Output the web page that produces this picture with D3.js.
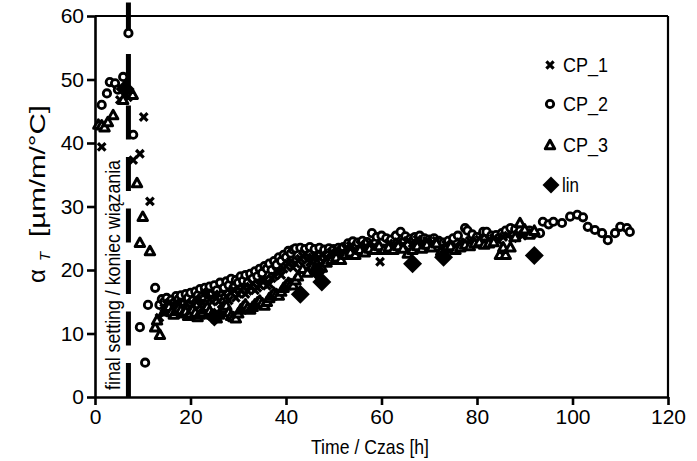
<!DOCTYPE html>
<html><head><meta charset="utf-8">
<script src="https://d3js.org/d3.v7.min.js"></script>
<style>body{margin:0;background:#fff}svg{display:block}text{font-family:"Liberation Sans Narrow","Liberation Sans",Arial,sans-serif;fill:#000}</style>
</head><body>
<svg id="c" width="697" height="461"></svg>
<script>
const xTicks=[0,20,40,60,80,100,120];
const yTicks=[0,10,20,30,40,50,60];
const seriesNames=["CP_1","CP_2","CP_3","lin"];
const finalSettingTime=7;
const cp1=[[1.4,39.4],[5.2,46.8],[6.9,47.2],[8,37.3],[9.4,38.3],[10.2,44.1],[11.5,30.8],[13.5,12.5],
[14.5,14],[15,14.6],[15.5,14.8],[16,14.2],[16.5,13.8],[17,14.9],[17.5,14.6],[18,13.9],[18.5,14.2],[19,14.8],[19.5,13.6],[20,14.1],[20.5,14.5],[21,15.5],[21.5,15.2],[22,14.4],[22.5,14.8],[23,16.4],[23.5,16.3],[24,15.4],[24.5,15],[25,16.2],[25.5,15.6],[26,15.1],[26.5,14.6],[27,16.3],[27.5,15.8],[28,15.2],[28.5,16.4],[29,16.9],[29.5,15.6],[30,16.2],[30.5,16.8],[31,17.3],[31.5,16.2],[32,16.7],[32.5,17.4],[33,17.9],[33.5,16.8],[34,17.2],[34.5,17.6],[35,18.6],[35.5,18.4],[36,17.5],[36.5,17.8],[37,18.7],[37.5,19],[38,19.8],[38.5,19.6],[39,19.2],[39.5,20.2],[40,20.6],[40.5,21],[41,21.4],[41.5,20.4],[42,21],[42.5,21.5],[43,21.8],[43.5,22.2],[44,22.6],[44.5,21.6],[45,21.2],[45.5,22],[46,22.3],[46.5,21.4],[47,21.9],[47.5,22.4],[48.5,22],[49.5,22.8],[50.5,23.2],[51.5,22.6],[52.5,23.4],[53.5,23.8],[54.5,23.2],[55.5,24],[56.5,23.6],[57.5,24.2],[58.5,23.8],[59.7,21.3],[60.5,23.6],[61.5,24.2],[62.5,23.8],[63.5,24.4],[64.5,24],[65.5,24.6],[66.5,24.2],[67.5,24.8],[68.5,24.4],[69.5,24.6],[70.5,24.2],[71.5,24.6],[72.5,23.6],[73.5,24],[74.5,23.4],[75.5,23.8],[76.5,24.4],[77.5,24],[78.5,24.6],[79.5,24.2],[80.5,24.8],[81.5,24.4],[82.5,24.8],[83.5,25],[84.5,24.6],[85.5,25.2],[86.5,25.4],[87.5,25],[88.5,25.6],[89.5,25.4],[90.5,25.8]];
const cp2=[[1.4,46],[2.5,47.8],[3.1,49.6],[4.2,49.4],[4.8,48.4],[5.9,50.4],[7,57.3],[8,41.3],[9.4,11],[10.5,5.4],[11.1,14.5],[12.6,17.2],
[13.5,14.5],[14,15.4],[14.5,15],[15,15.6],[15.5,14.8],[16,15.3],[16.5,14.2],[17,15.9],[17.5,15.4],[18,16],[18.5,14.8],[19,16.2],[19.5,15.6],[20,16.4],[20.5,15.2],[21,16.6],[21.5,16],[22,17],[22.5,15.8],[23,17.2],[23.5,16.5],[24,17.4],[24.5,16.2],[25,17.6],[25.5,16.8],[26.2,18],[27,17.2],[27.5,18.2],[28,17.6],[28.5,18.6],[29,17.2],[29.5,18.4],[30,18],[30.5,19],[31,18.3],[31.5,19.2],[32,18],[32.5,19.4],[33,18.6],[33.5,19.8],[34,19],[34.5,20.2],[35,19.5],[35.5,20.6],[36,20.2],[36.5,21],[37,20],[37.5,21.4],[38,20.8],[38.5,22],[39,21.4],[39.5,22.4],[40,22],[40.5,23],[41,22.6],[41.5,23.2],[42,23.4],[43,23.5],[44,23.3],[45,23.6],[46,23.3],[47,23.5],[48,23.2],[49,23.4],[50,23.3],[51,23.5],[52,23.6],[53,24.2],[54,24.5],[55,24.3],[56,24.6],[57,24.4],[58,25.8],[59,25.2],[60,25.4],[61,25],[62,24.8],[63,25.4],[64,26],[65,25.3],[66,24.9],[67,25.2],[67.4,24.2],[68,25.4],[69,25],[70,24.8],[71,25],[72,24.6],[73,24.3],[74,24.6],[75,25],[76,25.4],[77.5,26.6],[78,26.2],[79,25.6],[80,25.2],[81.3,26],[82,26],[83,25.4],[84,25.5],[85.2,25.8],[86,26.2],[87,26.6],[88,26.4],[89,26.2],[90,26],[91,26.2],[92,25.8],[93.2,25.8],[93.8,27.6],[95,27.2],[96,27.6],[97.8,27.4],[99.5,28.4],[101,28.7],[102.2,28.3],[103.2,26.8],[104.7,26.3],[106.2,25.8],[107.4,24.7],[108.9,25.8],[110,26.8],[111.4,26.6],[112,26]];
const cp3=[[0.7,42.9],[1.4,42.8],[2,42.5],[2.7,43.3],[3.8,44.4],[5.9,46.8],[7.9,47.6],[8.8,33.7],[9.4,24.3],[10,28.4],[11.5,23],[12.6,11],[13.6,9.8],[13,12.1],
[14.5,13.5],[15,13.9],[15.5,14.2],[16,13.4],[16.5,13],[17,13.6],[17.5,14],[18,13.7],[18.5,13.2],[19,13.5],[19.5,12.8],[20,13.1],[20.5,13.8],[21,13.3],[21.5,12.6],[22,13],[22.5,13.4],[23,13.9],[23.5,14.2],[24,13.6],[24.5,13],[25,12.8],[25.5,12.4],[26,13],[26.5,13.6],[27,14],[27.5,14.4],[28,13.4],[28.5,12.8],[29,12.6],[29.5,12.4],[30,13.2],[30.5,13.8],[31,14.2],[31.5,14.6],[32,14.1],[32.5,13.8],[33,14.2],[33.5,14.6],[34,14.9],[34.5,15.2],[35,14.8],[35.5,14.4],[36,15],[36.5,15.6],[37,16],[37.5,16.4],[38,16.2],[38.5,16],[39,16.6],[39.5,17.2],[40,17.6],[40.5,18],[41,17.8],[41.5,17.6],[42,18.4],[42.5,19],[43.5,20.2],[44.5,19.6],[45.5,20.6],[46.5,21],[47.5,20.4],[48.5,21.2],[49.5,21.6],[50.5,22],[51.5,21.6],[52.5,22.4],[53.5,22.8],[54.5,22.4],[55.5,23.2],[56.5,22.8],[57.5,23.4],[58.5,23.2],[59.5,23.8],[60.5,23.2],[61.5,23.6],[62.5,23.2],[63.5,23.8],[64.5,23.4],[65.5,22.6],[66.5,23.2],[67.5,23.8],[68.5,23.4],[69.5,24],[70.5,23.6],[71.5,24.2],[72.5,23],[73.5,23.4],[74.5,23.8],[75.5,23.2],[76.5,23.6],[77.5,24],[78.5,23.8],[79.5,24.2],[80.5,24.4],[81.5,24],[82.5,24.2],[83.5,24.4],[84.8,22.4],[85.5,23.6],[86,22.4],[87,23.6],[88,25.2],[89,27.4],[90,26.4],[91,25.6],[92,26.2]];
const lin=[[6.3,48.5],[25,12.6],[43,16.2],[46.5,19.8],[47.5,18.1],[66.5,21],[73,22],[92,22.3]];

const svg=d3.select("#c");
const x=d3.scaleLinear().domain([0,120]).range([95,668]);
const y=d3.scaleLinear().domain([0,60]).range([397,16]);

svg.append("line").attr("x1",x(0)).attr("x2",x(120)).attr("y1",y(60)).attr("y2",y(60)).attr("stroke","#000").attr("stroke-width",2.2);
svg.append("line").attr("x1",x(120)).attr("x2",x(120)).attr("y1",y(0)).attr("y2",y(60)).attr("stroke","#000").attr("stroke-width",2.2);

const xa=svg.append("g").attr("transform",`translate(0,${y(0)})`).call(d3.axisBottom(x).tickValues(xTicks).tickSize(8).tickPadding(4).tickSizeOuter(0));
const ya=svg.append("g").attr("transform",`translate(${x(0)},0)`).call(d3.axisLeft(y).tickValues(yTicks).tickSize(8).tickPadding(3).tickSizeOuter(0));
[xa,ya].forEach(a=>{a.select(".domain").attr("stroke-width",2.6);a.selectAll(".tick line").attr("stroke-width",2.6);a.selectAll("text").style("font-size","21px").style("font-family","Liberation Sans Narrow, Liberation Sans, Arial, sans-serif");});

svg.append("line").attr("x1",x(finalSettingTime)).attr("x2",x(finalSettingTime)).attr("y1",y(0)).attr("y2",y(62.4))
 .attr("stroke","#000").attr("stroke-width",5).attr("stroke-dasharray","34,17.5");
svg.append("text").attr("transform",`translate(120,390) rotate(-90)`).style("font-size","20px").attr("textLength",230).attr("lengthAdjust","spacingAndGlyphs").text("final setting / koniec wiązania");

const g=svg.append("g");
function drawX(sel,px,py,s){sel.append("path").attr("d",`M${px-s},${py-s}L${px+s},${py+s}M${px-s},${py+s}L${px+s},${py-s}`).attr("stroke","#000").attr("stroke-width",3.2).attr("fill","none");}
function drawO(sel,px,py){sel.append("circle").attr("cx",px).attr("cy",py).attr("r",3.7).attr("fill","#fff").attr("stroke","#000").attr("stroke-width",2.8);}
function drawT(sel,px,py){const s=4.7;sel.append("path").attr("d",`M${px},${py-s}L${px+s},${py+s*0.8}L${px-s},${py+s*0.8}Z`).attr("fill","#fff").attr("stroke","#000").attr("stroke-width",3).attr("stroke-linejoin","round");}
function drawD(sel,px,py,s){sel.append("path").attr("d",`M${px},${py-s}L${px+s},${py}L${px},${py+s}L${px-s},${py}Z`).attr("fill","#000");}

cp2.forEach(d=>drawO(g,x(d[0]),y(d[1])));
cp1.forEach(d=>drawX(g,x(d[0]),y(d[1]),3.8));
cp3.forEach(d=>drawT(g,x(d[0]),y(d[1])));
lin.forEach(d=>drawD(g,x(d[0]),y(d[1]),9.5));

const leg=svg.append("g");
const ly=[65,104,145,185];
const lw=[45,45,45,17];
drawX(leg,550,ly[0],3.6);drawO(leg,550,ly[1]);drawT(leg,550,ly[2]);drawD(leg,551,ly[3],8.5);
seriesNames.forEach((n,i)=>leg.append("text").attr("x",i==3?562:563).attr("y",ly[i]+7).style("font-size","21px").attr("textLength",lw[i]).attr("lengthAdjust","spacingAndGlyphs").text(n));

svg.append("text").attr("x",370).attr("y",454).attr("text-anchor","middle").style("font-size","21px").attr("textLength",118).attr("lengthAdjust","spacingAndGlyphs").text("Time / Czas [h]");
const yl=svg.append("g").style("font-family","Liberation Sans, Arial, sans-serif");
yl.append("text").attr("transform","translate(45,283) rotate(-90)").style("font-size","24px").text("α");
yl.append("text").attr("transform","translate(50,261) rotate(-90)").style("font-size","15px").style("font-style","italic").text("T");
yl.append("text").attr("transform","translate(45,237) rotate(-90)").style("font-size","22px").attr("textLength",132).attr("lengthAdjust","spacingAndGlyphs").text("[µm/m/°C]");
</script>
</body></html>
